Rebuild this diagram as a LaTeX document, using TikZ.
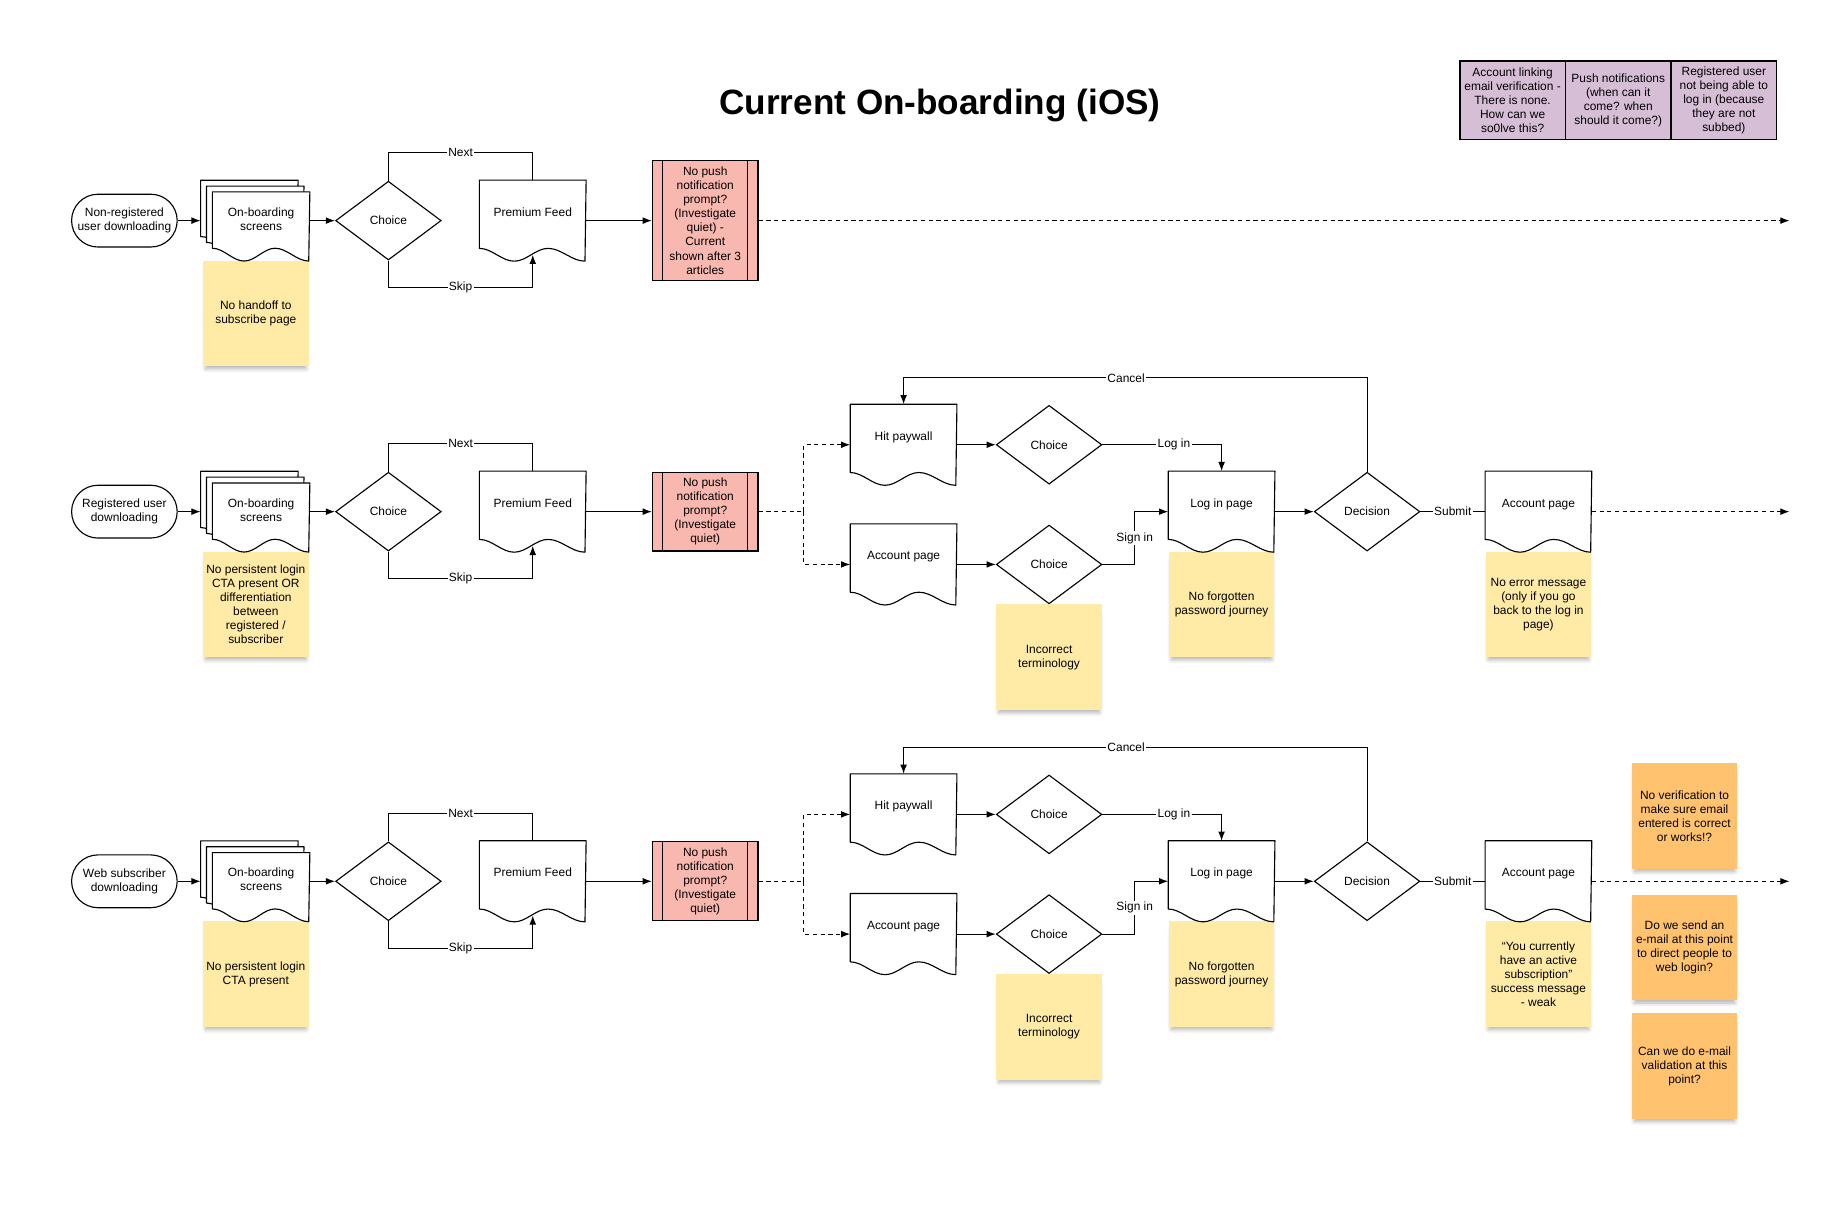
\documentclass[tikz,border=0pt]{standalone}
\usepackage{fontspec}
\setmainfont{Liberation Sans}
\usetikzlibrary{arrows.meta, shapes.geometric, shadows.blur}
\definecolor{noteyellow}{RGB}{255,234,166}
\definecolor{noteorange}{RGB}{255,195,112}
\definecolor{pushred}{RGB}{249,184,175}
\definecolor{legendlilac}{RGB}{214,191,214}

\newcommand{\docoutline}[3]{%
  \filldraw[fill=white, draw=black, line join=round]
    ([yshift=#3]#1.south west)
    cos ++({0.165*#2},{-0.5*#3}) sin ++({0.165*#2},{-0.5*#3})
    cos ++({0.16*#2},{0.5*#3}) sin ++({0.16*#2},{0.5*#3})
    cos ++({0.175*#2},{-0.5*#3}) sin ++({0.175*#2},{-0.5*#3})
    -- (#1.north east) -- (#1.north west) -- cycle;}

\begin{document}
\begin{tikzpicture}[x=0.02934cm, y=-0.02934cm, line width=0.8pt,
    >={Latex[length=2.3mm,width=1.7mm]}, font=\fontsize{8.5}{10}\selectfont,
    startend/.style={
        draw, rectangle, rounded corners=0.66cm, fill=white,
        minimum width=2.64cm, minimum height=1.32cm, inner sep=0pt, align=center
    },
    choice/.style={
        draw, diamond, aspect=1.34, fill=white,
        minimum width=2.64cm, minimum height=1.97cm, inner sep=0pt
    },
    docpage/.style={
        rectangle, minimum width=#1, minimum height=2cm, inner sep=0pt,
        align=center, text height=6.5pt, text depth=13pt,
        append after command={\pgfextra{\pgfinterruptpath
            \docoutline{\tikzlastnode}{#1}{0.32cm}\endpgfinterruptpath}}
    },
    docpage/.default=2.64cm,
    stackdoc/.style={docpage=2.41cm, minimum height=1.7cm},
    pushbox/.style={
        draw, fill=pushred, minimum width=2.64cm, inner sep=0pt, align=center,
        path picture={
            \draw ([xshift=0.26cm]path picture bounding box.north west)
               -- ([xshift=0.26cm]path picture bounding box.south west)
                  ([xshift=-0.26cm]path picture bounding box.north east)
               -- ([xshift=-0.26cm]path picture bounding box.south east);}
    },
    sticky/.style={
        fill=noteyellow, minimum width=2.64cm, minimum height=2.64cm,
        inner sep=0pt, align=center,
        blur shadow={shadow xshift=0pt, shadow yshift=-4pt, shadow scale=0.95,
                     shadow blur radius=3pt, shadow blur steps=6, shadow opacity=30}
    },
    legcell/.style={
        draw, line width=1pt, fill=legendlilac, minimum width=2.64cm,
        minimum height=1.97cm, inner sep=0pt, align=center
    },
    flowdash/.style={dash pattern=on 3pt off 2.5pt},
    lbl/.style={fill=white, inner sep=1pt},
]
\useasboundingbox (0,0) rectangle (1568,1043);

    \node[font=\fontsize{25}{30}\selectfont\bfseries] (title) at (801,90) {Current On-boarding (iOS)};

    \node[legcell] (lg1) at (1289,85.5) {Account linking\\email verification -\\There is none.\\How can we\\so0lve this?};
    \node[legcell] (lg2) at (1379,85.5) {Push notifications\\(when can it\\come? when\\should it come?)};
    \node[legcell] (lg3) at (1469,85.5) {Registered user\\not being able to\\log in (because\\they are not\\subbed)};

    % row 1
    \node[startend] (t1) at (106,188) {Non-registered\\user downloading};
    \node[sticky] (nt1) at (218,267) {No handoff to\\subscribe page};
    \node[stackdoc] (oba1) at (212.5,183) {};
    \node[stackdoc] (obb1) at (217.5,188) {};
    \node[stackdoc, text depth=1.3pt] (obc1) at (222.5,193) {On-boarding\\screens};
    \node[choice] (ch1) at (331,188) {Choice};
    \node[docpage] (pf1) at (454,188) {Premium Feed};
    \node[pushbox, minimum height=2.99cm] (pp1) at (601,188)
        {No push\\notification\\prompt?\\(Investigate\\quiet) -\\Current\\shown after 3\\articles};
    \coordinate (nx1) at (454,130);
    \coordinate (sk1) at (454,245);
    \coordinate (end1) at (1525,188);

    \draw[->] (t1.east) -- (t1 -| oba1.west);
    \draw[->] (ch1.west -| obc1.east) -- (ch1.west);
    \draw (ch1.north) |- node[lbl, pos=0.75] {Next} (nx1) -- (pf1.north);
    \draw[->] (ch1.south) |- node[lbl, pos=0.75] {Skip} (sk1) -- ([yshift=0.16cm]pf1.south);
    \draw[->] (pf1.east) -- (pp1.west);
    \draw[->, flowdash] (pp1.east) -- (end1);

    % row 2
    \node[startend] (t2) at (106,436) {Registered user\\downloading};
    \node[sticky] (nt2) at (218,515) {No persistent login\\CTA present OR\\differentiation\\between\\registered /\\subscriber};
    \node[stackdoc] (oba2) at (212.5,431) {};
    \node[stackdoc] (obb2) at (217.5,436) {};
    \node[stackdoc, text depth=1.3pt] (obc2) at (222.5,441) {On-boarding\\screens};
    \node[choice] (ch2) at (331,436) {Choice};
    \node[docpage] (pf2) at (454,436) {Premium Feed};
    \node[pushbox, minimum height=1.97cm] (pp2) at (601,436)
        {No push\\notification\\prompt?\\(Investigate\\quiet)};
    \node[docpage] (hp2) at (770,379) {Hit paywall};
    \node[docpage] (ap2) at (770,481) {Account page};
    \node[choice] (cha2) at (894,379) {Choice};
    \node[choice] (chb2) at (894,481) {Choice};
    \node[sticky] (nti2) at (894,560) {Incorrect\\terminology};
    \node[sticky] (ntf2) at (1041,515) {No forgotten\\password journey};
    \node[docpage] (lp2) at (1041,436) {Log in page};
    \node[choice] (dec2) at (1165,436) {Decision};
    \node[sticky] (nte2) at (1311,515) {No error message\\(only if you go\\back to the log in\\page)};
    \node[docpage] (acc2) at (1311,436) {Account page};
    \coordinate (nx2) at (454,378);
    \coordinate (sk2) at (454,493);
    \coordinate (br2) at (685,436);
    \coordinate (cn2) at (770,322);
    \coordinate (si2) at (967,436);
    \coordinate (end2) at (1525,436);

    \draw[->] (t2.east) -- (t2 -| oba2.west);
    \draw[->] (ch2.west -| obc2.east) -- (ch2.west);
    \draw (ch2.north) |- node[lbl, pos=0.75] {Next} (nx2) -- (pf2.north);
    \draw[->] (ch2.south) |- node[lbl, pos=0.75] {Skip} (sk2) -- ([yshift=0.16cm]pf2.south);
    \draw[->] (pf2.east) -- (pp2.west);
    \draw[flowdash] (pp2.east) -- (br2);
    \draw[->, flowdash] (br2) |- (hp2.west);
    \draw[->, flowdash] (br2) |- (ap2.west);
    \draw[->] (hp2.east) -- (cha2.west);
    \draw[->] (ap2.east) -- (chb2.west);
    \draw[->] (cha2.east) -| node[lbl, pos=0.3] {Log in} (lp2.north);
    \draw[->] (chb2.east) -| node[lbl, pos=0.75] {Sign in} (si2) -- (lp2.west);
    \draw[->] (lp2.east) -- (dec2.west);
    \draw[->] (dec2.north) |- node[lbl, pos=0.76] {Cancel} (cn2) -- (hp2.north);
    \draw (dec2.east) -- node[lbl] {Submit} (acc2.west);
    \draw[->, flowdash] (acc2.east) -- (end2);

    % row 3
    \node[startend] (t3) at (106,751) {Web subscriber\\downloading};
    \node[sticky] (nt3) at (218,830) {No persistent login\\CTA present};
    \node[stackdoc] (oba3) at (212.5,746) {};
    \node[stackdoc] (obb3) at (217.5,751) {};
    \node[stackdoc, text depth=1.3pt] (obc3) at (222.5,756) {On-boarding\\screens};
    \node[choice] (ch3) at (331,751) {Choice};
    \node[docpage] (pf3) at (454,751) {Premium Feed};
    \node[pushbox, minimum height=1.97cm] (pp3) at (601,751)
        {No push\\notification\\prompt?\\(Investigate\\quiet)};
    \node[docpage] (hp3) at (770,694) {Hit paywall};
    \node[docpage] (ap3) at (770,796) {Account page};
    \node[choice] (cha3) at (894,694) {Choice};
    \node[choice] (chb3) at (894,796) {Choice};
    \node[sticky] (nti3) at (894,875) {Incorrect\\terminology};
    \node[sticky] (ntf3) at (1041,830) {No forgotten\\password journey};
    \node[docpage] (lp3) at (1041,751) {Log in page};
    \node[choice] (dec3) at (1165,751) {Decision};
    \node[sticky] (nts3) at (1311,830) {``You currently\\have an active\\subscription''\\success message\\- weak};
    \node[docpage] (acc3) at (1311,751) {Account page};
    \node[sticky, fill=noteorange] (nq1) at (1435.5,695.5) {No verification to\\make sure email\\entered is correct\\or works!?};
    \node[sticky, fill=noteorange] (nq2) at (1435.5,807.5) {Do we send an\\e-mail at this point\\to direct people to\\web login?};
    \node[sticky, fill=noteorange] (nq3) at (1435.5,908.5) {Can we do e-mail\\validation at this\\point?};
    \coordinate (nx3) at (454,693);
    \coordinate (sk3) at (454,808);
    \coordinate (br3) at (685,751);
    \coordinate (cn3) at (770,637);
    \coordinate (si3) at (967,751);
    \coordinate (end3) at (1525,751);

    \draw[->] (t3.east) -- (t3 -| oba3.west);
    \draw[->] (ch3.west -| obc3.east) -- (ch3.west);
    \draw (ch3.north) |- node[lbl, pos=0.75] {Next} (nx3) -- (pf3.north);
    \draw[->] (ch3.south) |- node[lbl, pos=0.75] {Skip} (sk3) -- ([yshift=0.16cm]pf3.south);
    \draw[->] (pf3.east) -- (pp3.west);
    \draw[flowdash] (pp3.east) -- (br3);
    \draw[->, flowdash] (br3) |- (hp3.west);
    \draw[->, flowdash] (br3) |- (ap3.west);
    \draw[->] (hp3.east) -- (cha3.west);
    \draw[->] (ap3.east) -- (chb3.west);
    \draw[->] (cha3.east) -| node[lbl, pos=0.3] {Log in} (lp3.north);
    \draw[->] (chb3.east) -| node[lbl, pos=0.75] {Sign in} (si3) -- (lp3.west);
    \draw[->] (lp3.east) -- (dec3.west);
    \draw[->] (dec3.north) |- node[lbl, pos=0.76] {Cancel} (cn3) -- (hp3.north);
    \draw (dec3.east) -- node[lbl] {Submit} (acc3.west);
    \draw[->, flowdash] (acc3.east) -- (end3);

\end{tikzpicture}
\end{document}
